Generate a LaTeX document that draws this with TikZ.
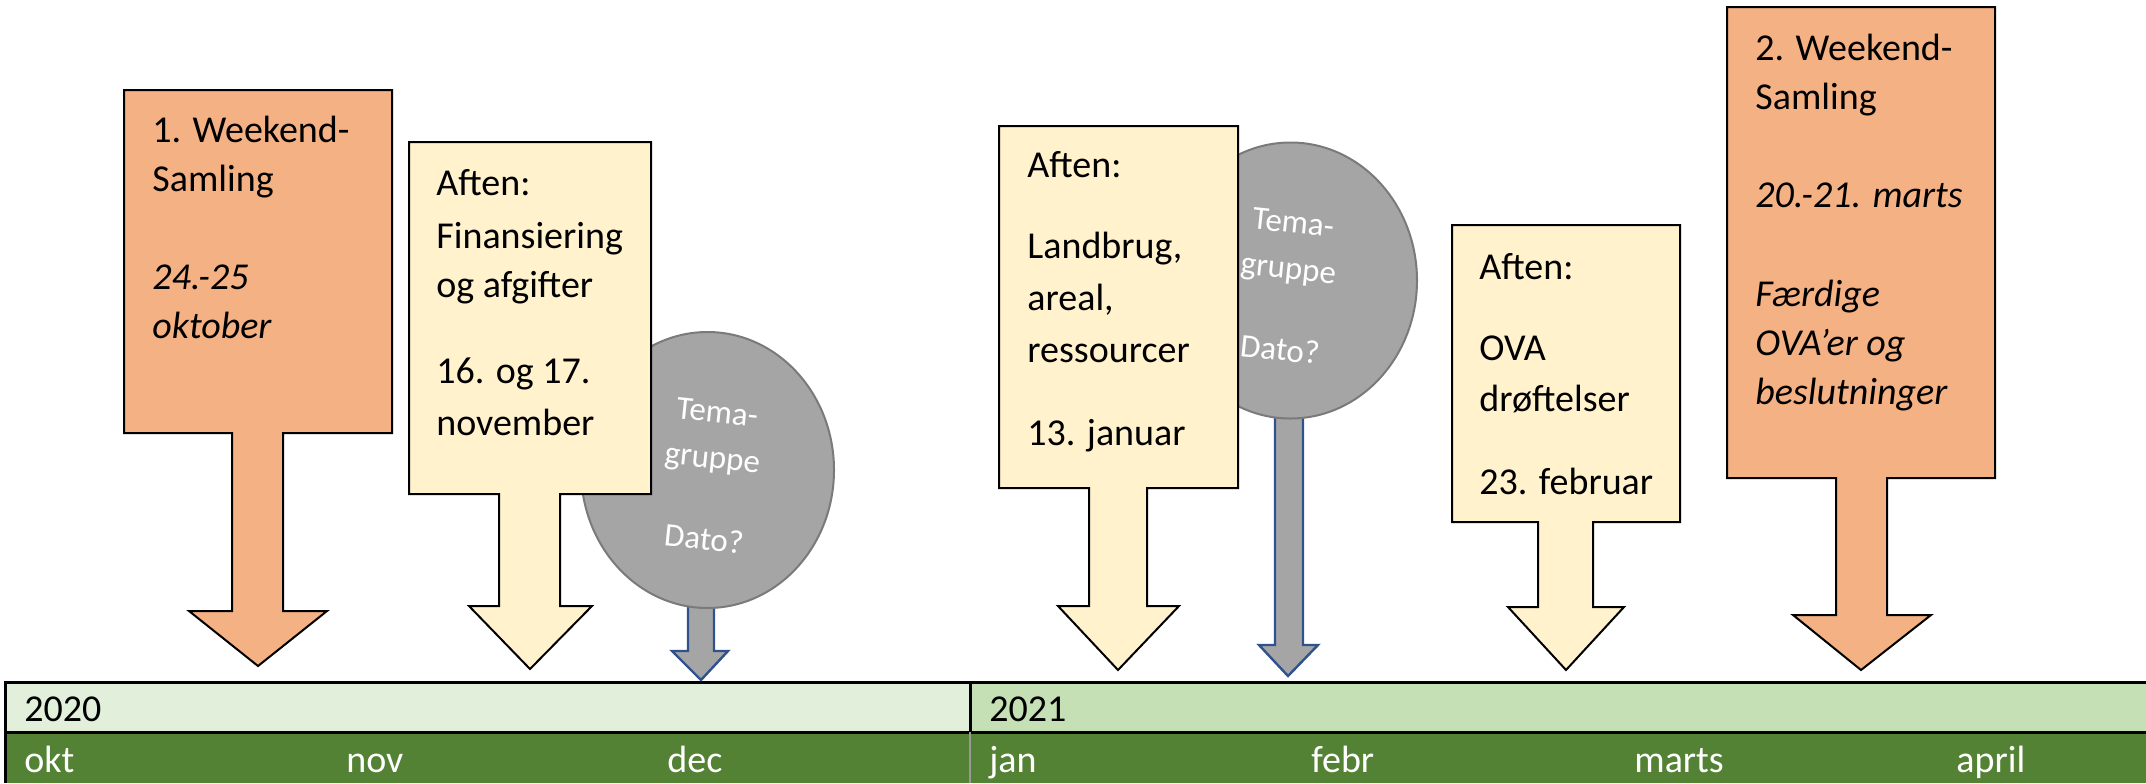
\documentclass[tikz,border=0pt]{standalone}
\usepackage{fontspec}
\setmainfont{Carlito}
\usetikzlibrary{shapes.geometric,calc}
\definecolor{orangeF}{HTML}{F4B183}
\definecolor{yellowF}{HTML}{FFF2CC}
\definecolor{grayF}{HTML}{A5A5A5}
\definecolor{grayB}{HTML}{7A7A7A}
\definecolor{blueB}{HTML}{2F528F}
\definecolor{barA}{HTML}{E2EFDA}
\definecolor{barB}{HTML}{C5E0B4}
\definecolor{barM}{HTML}{548235}
\newcommand\boxlines[1]{\begin{tabular}[t]{@{}l@{}}#1\end{tabular}}
\newcommand\circlines[1]{\begin{tabular}{@{}c@{}}#1\end{tabular}}
\tikzset{
  callout/.style={draw=black, line width=1pt, line join=miter},
  calltext/.style={anchor=base west, inner sep=0pt, font=\fontsize{19}{24.5}\selectfont},
  temacirc/.style={ellipse, draw=grayB, fill=grayF, line width=1pt, minimum width=126.5pt, minimum height=138pt, inner sep=0pt},
  tematext/.style={inner sep=0pt, rotate=-6, text=white, font=\fontsize{16.5}{23}\selectfont},
  grayarrow/.style={draw=blueB, fill=grayF, line width=1.2pt, line join=miter},
  bartext/.style={anchor=base west, inner sep=0pt, font=\fontsize{19}{24}\selectfont},
  barline/.style={draw=black, line width=1.5pt}
}
\begin{document}
\begin{tikzpicture}[x=0.5pt, y=-0.5pt]
\useasboundingbox (0,0) rectangle (2146,783);
% ---- timeline bar
\fill[barA] (5,682) rectangle (970,732);
\fill[barB] (970,682) rectangle (2146,732);
\fill[barM] (5,732) rectangle (2146,783);
\draw[barline] (2146,682) -- (5,682) -- (5,783);
\draw[barline] (5,732) -- (2146,732);
\draw[barline] (970,682) -- (970,732);
\draw[black!40, line width=0.6pt] (970,732) -- (970,783);
\node[bartext] (y2020) at (24,721) {2020};
\node[bartext] (y2021) at (989,721) {2021};
\node[bartext, text=white] (mokt) at (24,772) {okt};
\node[bartext, text=white] (mnov) at (346,772) {nov};
\node[bartext, text=white] (mdec) at (667,772) {dec};
\node[bartext, text=white] (mjan) at (989,772) {jan};
\node[bartext, text=white] (mfebr) at (1311,772) {febr};
\node[bartext, text=white] (mmarts) at (1634,772) {marts};
\node[bartext, text=white] (mapril) at (1956,772) {april};
% ---- gray arrows (behind circles)
\draw[grayarrow] (688,590) -- (714,590) -- (714,651) -- (728,651) -- (701,680) -- (672,651) -- (688,651) -- cycle;
\draw[grayarrow] (1275,400) -- (1303,400) -- (1303,645) -- (1318,645) -- (1288,676) -- (1259,645) -- (1275,645) -- cycle;
% ---- circles
\node[temacirc] (c1) at (707.5,470) {};
\node[tematext] (c1t) at ($(c1.center)+(3,7)$) {\circlines{Tema-\\gruppe\\[18pt]Dato?}};
\node[temacirc] (c2) at (1290.5,280.5) {};
\node[tematext] (c2t) at ($(c2.center)+(-4,7)$) {\circlines{Tema-\\gruppe\\[18pt]Dato?}};
% ---- callouts
\draw[callout, fill=orangeF] (124,90) -- (392,90) -- (392,433) -- (283,433) -- (283,611) -- (327,611) -- (258,666) -- (189,611) -- (232,611) -- (232,433) -- (124,433) -- cycle;
\draw[callout, fill=yellowF] (409,142) -- (651,142) -- (651,494) -- (560,494) -- (560,606) -- (592,606) -- (530,669) -- (469,606) -- (499,606) -- (499,494) -- (409,494) -- cycle;
\draw[callout, fill=yellowF] (999,126) -- (1238,126) -- (1238,488) -- (1147,488) -- (1147,606) -- (1179,606) -- (1118,670) -- (1058,606) -- (1089,606) -- (1089,488) -- (999,488) -- cycle;
\draw[callout, fill=yellowF] (1452,225) -- (1680,225) -- (1680,522) -- (1593,522) -- (1593,607) -- (1624,607) -- (1566,670) -- (1508,607) -- (1538,607) -- (1538,522) -- (1452,522) -- cycle;
\draw[callout, fill=orangeF] (1727,7) -- (1995,7) -- (1995,478) -- (1887,478) -- (1887,615) -- (1931,615) -- (1861,670) -- (1793,615) -- (1836,615) -- (1836,478) -- (1727,478) -- cycle;
% ---- callout texts
\node[calltext] (t1) at (152,142) {\boxlines{1. Weekend-\\Samling\\[24.5pt]{\itshape 24.-25}\\{\itshape oktober}}};
\node[calltext] (t2) at (436,195) {\boxlines{Aften:\\[2pt]Finansiering\\og afgifter\\[18.5pt]16. og 17.\\[1.5pt]november}};
\node[calltext] (t3) at (1027,177) {\boxlines{Aften:\\[16pt]Landbrug,\\[1.5pt]areal,\\[1.5pt]ressourcer\\[17pt]13. januar}};
\node[calltext] (t4) at (1479,279) {\boxlines{Aften:\\[16pt]OVA\\[1pt]drøftelser\\[17pt]23. februar}};
\node[calltext] (t5) at (1755,60) {\boxlines{2. Weekend-\\Samling\\[24.5pt]{\itshape 20.-21. marts}\\[25pt]{\itshape Færdige}\\{\itshape OVA’er og}\\{\itshape beslutninger}}};
\end{tikzpicture}
\end{document}
